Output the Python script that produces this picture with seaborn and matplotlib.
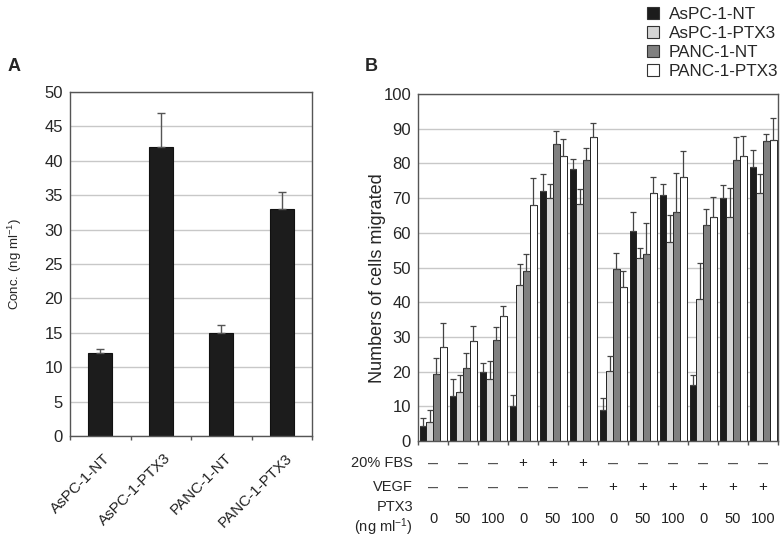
import numpy as np
import pandas as pd
import matplotlib
matplotlib.use("Agg")
import matplotlib.pyplot as plt
import matplotlib.transforms as mtrans
from matplotlib.patches import Patch
import seaborn as sns

# ---------------- data ----------------
# Panel A
a_labels = ["AsPC-1-NT", "AsPC-1-PTX3", "PANC-1-NT", "PANC-1-PTX3"]
a_values = [12.1, 42.0, 15.0, 33.0]
a_errors = [0.5, 5.0, 1.2, 2.5]

# Panel B
series = ["AsPC-1-NT", "AsPC-1-PTX3", "PANC-1-NT", "PANC-1-PTX3"]
groups = ["G1", "G2", "G3", "G4", "G5", "G6", "G7", "G8", "G9", "G10", "G11", "G12"]
fbs_row = ["–", "–", "–", "+", "+", "+", "–", "–", "–", "–", "–", "–"]
vegf_row = ["–", "–", "–", "–", "–", "–", "+", "+", "+", "+", "+", "+"]
ptx3_row = ["0", "50", "100", "0", "50", "100", "0", "50", "100", "0", "50", "100"]

asnt = [4.3, 13.0, 20.0, 10.0, 72.0, 78.3, 8.8, 60.5, 71.0, 16.0, 70.0, 79.0]
asnt_err = [2.4, 5.0, 2.5, 3.3, 5.0, 3.0, 3.7, 5.5, 3.2, 3.0, 3.8, 5.0]
asptx = [5.4, 14.0, 17.8, 45.0, 70.0, 68.3, 20.2, 52.6, 57.4, 40.8, 64.6, 71.4]
asptx_err = [3.4, 5.0, 5.2, 6.0, 4.0, 4.2, 4.2, 3.1, 7.7, 10.4, 8.2, 5.6]
pnt = [19.4, 21.0, 29.0, 49.0, 85.5, 81.0, 49.7, 53.8, 66.0, 62.2, 81.0, 86.4]
pnt_err = [4.6, 4.4, 3.8, 4.8, 3.8, 3.3, 4.6, 9.1, 11.3, 4.6, 6.5, 2.2]
pptx = [27.0, 28.7, 36.0, 68.0, 82.0, 87.7, 44.4, 71.5, 76.0, 64.6, 82.0, 86.7]
pptx_err = [7.0, 4.3, 3.0, 7.8, 5.0, 4.0, 4.6, 4.7, 7.6, 5.8, 6.0, 6.3]

colors = ["#1c1c1c", "#d6d6d6", "#808080", "#ffffff"]

# ---------------- style ----------------
sns.set_theme(style="white")
plt.rcParams["font.family"] = ["Liberation Sans", "DejaVu Sans"]
plt.rcParams["mathtext.fontset"] = "custom"
plt.rcParams["mathtext.rm"] = "Liberation Sans"
plt.rcParams["mathtext.it"] = "Liberation Sans"

fig = plt.figure(figsize=(7.8, 5.38), dpi=100)
axA = fig.add_axes([70 / 780, 1 - 436 / 538, 242 / 780, (436 - 92) / 538])
axB = fig.add_axes([418 / 780, 1 - 441 / 538, 360 / 780, (441 - 94) / 538])

spine_col = "#555555"
grid_col = "#c8c8c8"
err_col = "#444444"
tick_fs = 12

# ---------------- panel A ----------------
dfA = pd.DataFrame({"line": a_labels, "conc": a_values})
sns.barplot(data=dfA, x="line", y="conc", color=colors[0], width=0.4,
            edgecolor="#111111", linewidth=0.8, saturation=1, errorbar=None, ax=axA)
for bar, e in zip(axA.containers[0], a_errors):
    xc = bar.get_x() + bar.get_width() / 2
    h = bar.get_height()
    axA.errorbar([xc], [h], yerr=[[0], [e]], fmt="none", ecolor="#555555",
                 elinewidth=1, capsize=3, capthick=1)
axA.set_xlim(-0.5, 3.5)
axA.set_ylim(0, 50)
axA.set_yticks(np.arange(0, 51, 5))
axA.set_xticks(np.arange(-0.5, 3.6, 1))
axA.set_xticklabels([])
for i, lab in enumerate(a_labels):
    axA.text(i + 0.05, -2.2, lab, rotation=45, ha="right", va="top",
             rotation_mode="anchor", fontsize=11, color="#222222")
axA.set_xlabel("")
axA.set_ylabel("Conc. (ng ml$^{-1}$)", fontsize=9.5)
axA.yaxis.set_label_coords(-0.19, 0.5)
axA.tick_params(axis="y", labelsize=tick_fs, length=3, width=1, color=spine_col, pad=2)
axA.tick_params(axis="x", length=3, width=1, color=spine_col, bottom=True)
axA.yaxis.grid(True, color=grid_col, lw=1)
axA.set_axisbelow(True)
for s in axA.spines.values():
    s.set_color(spine_col)
    s.set_linewidth(1)

# ---------------- panel B ----------------
rows = []
for s, vals in zip(series, [asnt, asptx, pnt, pptx]):
    for g, v in zip(groups, vals):
        rows.append({"group": g, "series": s, "value": v})
dfB = pd.DataFrame(rows)
sns.barplot(data=dfB, x="group", y="value", hue="series", hue_order=series,
            order=groups, palette=colors, width=0.9, edgecolor="#222222",
            linewidth=0.7, saturation=1, errorbar=None, legend=False, ax=axB)
for cont, errs in zip(axB.containers, [asnt_err, asptx_err, pnt_err, pptx_err]):
    xs = [b.get_x() + b.get_width() / 2 for b in cont]
    hs = [b.get_height() for b in cont]
    axB.errorbar(xs, hs, yerr=[np.zeros(len(errs)), errs], fmt="none",
                 ecolor=err_col, elinewidth=0.9, capsize=2, capthick=0.9)
axB.set_xlim(-0.5, 11.5)
axB.set_ylim(0, 100)
axB.set_yticks(np.arange(0, 101, 10))
axB.set_xticks(np.arange(-0.5, 11.6, 1))
axB.set_xticklabels([])
axB.set_xlabel("")
axB.set_ylabel("Numbers of cells migrated", fontsize=13)
axB.yaxis.set_label_coords(-0.088, 0.47)
axB.tick_params(axis="y", labelsize=tick_fs, length=3, width=1, color=spine_col, pad=2)
axB.tick_params(axis="x", length=3, width=1, color=spine_col, bottom=True)
axB.yaxis.grid(True, color=grid_col, lw=1)
axB.set_axisbelow(True)
for s in axB.spines.values():
    s.set_color(spine_col)
    s.set_linewidth(1)

# table under panel B
tr = mtrans.blended_transform_factory(axB.transData, fig.transFigure)
lab_x = 413 / 780
y_fbs = 1 - 463 / 538
y_vegf = 1 - 487 / 538
y_ptx = 1 - 519 / 538
fig.text(lab_x, y_fbs, "20% FBS", ha="right", va="center", fontsize=10.5)
fig.text(lab_x, y_vegf, "VEGF", ha="right", va="center", fontsize=10.5)
fig.text(lab_x, y_ptx, "PTX3\n(ng ml$^{-1}$)", ha="right", va="center",
         multialignment="right", fontsize=10.5, linespacing=1.2)
for i in range(len(groups)):
    for yv, txt in ((y_fbs, fbs_row[i]), (y_vegf, vegf_row[i])):
        if txt == "–":
            axB.text(i, yv, txt, transform=tr, ha="center", va="center",
                     fontsize=13, color="#555555", clip_on=False)
        else:
            axB.text(i, yv, txt, transform=tr, ha="center", va="center",
                     fontsize=11, color="#222222", clip_on=False)
    axB.text(i, y_ptx, ptx3_row[i], transform=tr, ha="center", va="center",
             fontsize=10.5, color="#222222", clip_on=False)

# panel letters
fig.text(8 / 780, 1 - 66 / 538, "A", fontsize=13, fontweight="bold", va="center")
fig.text(365 / 780, 1 - 66 / 538, "B", fontsize=13, fontweight="bold", va="center")

# legend
handles = [Patch(facecolor=c, edgecolor="#333333", linewidth=0.8) for c in colors]
fig.legend(handles, series, loc="upper left",
           bbox_to_anchor=(644 / 780, 1 - 4 / 538), frameon=False,
           fontsize=12.3, handlelength=0.7, handleheight=0.7,
           handletextpad=0.55, labelspacing=0.22, borderaxespad=0,
           borderpad=0.2)

fig.savefig("out.png", dpi=100)
